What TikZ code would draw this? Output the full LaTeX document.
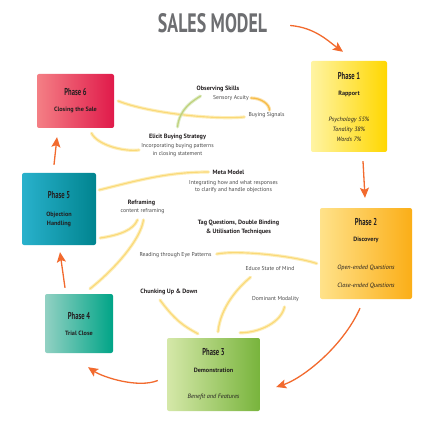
\documentclass[tikz,border=0pt]{standalone}
\usepackage{fontspec}
\setmainfont{PT Sans}
\usetikzlibrary{arrows.meta}

\definecolor{flowor}{HTML}{F26A2E}
\definecolor{swlight}{HTML}{FDE79A}
\definecolor{swdark}{HTML}{F9CA4C}
\definecolor{grlight}{HTML}{CFE6B2}
\definecolor{grdark}{HTML}{A9D082}
\definecolor{orlight}{HTML}{FBD587}
\definecolor{ordark}{HTML}{F6B035}
\definecolor{txtdark}{HTML}{231F20}
\definecolor{txtgray}{HTML}{4A4A4A}
\definecolor{titlegray}{HTML}{6D6E71}
% box gradients, left / middle / right
\definecolor{pha}{HTML}{FFF4A3}\definecolor{phb}{HTML}{FFEE22}\definecolor{phc}{HTML}{FFD700}
\definecolor{pda}{HTML}{FFE28A}\definecolor{pdb}{HTML}{FFC926}\definecolor{pdc}{HTML}{FBAE17}
\definecolor{pma}{HTML}{D5E8A9}\definecolor{pmb}{HTML}{A9D46E}\definecolor{pmc}{HTML}{78B43C}
\definecolor{pta}{HTML}{92D1C3}\definecolor{ptb}{HTML}{2BB59E}\definecolor{ptc}{HTML}{00A487}
\definecolor{poa}{HTML}{29B1CC}\definecolor{pob}{HTML}{0B9BB4}\definecolor{poc}{HTML}{00848F}
\definecolor{pca}{HTML}{F47F85}\definecolor{pcb}{HTML}{EC4361}\definecolor{pcc}{HTML}{E01A4A}

\newcommand{\phasehd}[1]{{\fontsize{10}{10}\selectfont\scalebox{0.66}[1]{\bfseries #1}}}

\begin{document}
\begin{tikzpicture}[
  x=1pt, y=-1pt,
  phasebox/.style={rounded corners=2pt, align=center, inner sep=0pt, text=txtdark,
                   font=\fontsize{6.2}{10}\selectfont},
  hint/.style={font=\fontsize{6.2}{9}\selectfont\bfseries, text=txtdark, align=center, inner sep=0pt},
  note/.style={font=\fontsize{5.7}{7.8}\selectfont, text=txtgray, align=center, inner sep=0pt},
  flow/.style={-{Stealth[length=10pt, width=9pt, inset=2pt]}, line width=1.3pt, draw=flowor},
  swash/.style={line cap=round, line width=3.2pt, draw=swlight, opacity=.7,
                postaction={draw=swdark, line width=1.1pt, opacity=.6}},
  gswash/.style={swash, draw=grlight, postaction={draw=grdark, line width=1.1pt}},
  oswash/.style={swash, draw=orlight, postaction={draw=ordark, line width=1.1pt}}
]
\fill[white] (0,0) rectangle (430,430);
\useasboundingbox (0,0) rectangle (430,430);

\node[inner sep=0pt, text=titlegray] (title) at (212.5,23.5)
  {\resizebox{109pt}{19pt}{\bfseries SALES MODEL}};

% phases
\node[phasebox, minimum width=76pt, minimum height=91pt,
      left color=pha, middle color=phb, right color=phc] (ph1) at (349,106.5)
  {\phasehd{Phase 1}\\[6pt]\textbf{Rapport}\\[16pt]\textit{Psychology 55\%}\\\textit{Tonality 38\%}\\\textit{Words 7\%}};
\node[phasebox, minimum width=92pt, minimum height=91pt,
      left color=pda, middle color=pdb, right color=pdc] (ph2) at (366,253.5)
  {\phasehd{Phase 2}\\[6pt]\textbf{Discovery}\\[18pt]\textit{Open-ended Questions}\\[8pt]\textit{Close-ended Questions}};
\node[phasebox, minimum width=93pt, minimum height=73pt,
      left color=pma, middle color=pmb, right color=pmc] (ph3) at (213.5,374.5)
  {\phasehd{Phase 3}\\[7pt]\textbf{Demonstration}\\[16pt]\textit{Benefit and Features}};
\node[phasebox, minimum width=68pt, minimum height=59pt,
      left color=pta, middle color=ptb, right color=ptc] (ph4) at (79,323.5)
  {\phasehd{Phase 4}\\[6pt]\textbf{Trial Close}};
\node[phasebox, minimum width=74pt, minimum height=72pt,
      left color=poa, middle color=pob, right color=poc] (ph5) at (59,209)
  {\phasehd{Phase 5}\\[8pt]\textbf{Objection}\\[-1pt]\textbf{Handling}};
\node[phasebox, minimum width=77pt, minimum height=54pt,
      left color=pca, middle color=pcb, right color=pcc] (ph6) at (75.5,101)
  {\phasehd{Phase 6}\\[6pt]\textbf{Closing the Sale}};

% skills
\node[hint] (obs) at (218,89) {Observing Skills};
\node[note] (acuity) at (231,98) {Sensory Acuity};
\node[note] (signals) at (266.5,115) {Buying Signals};
\node[hint] (elicit) at (177.5,137) {Elicit Buying Strategy};
\node[note] (elicitnote) at (177.5,150) {Incorporating buying patterns\\in closing statement};
\node[hint] (meta) at (228.5,172) {Meta Model};
\node[note] (metanote) at (233.5,186.5) {Integrating how and what responses\\to clarify and handle objections};
\node[hint] (refr) at (141.5,203) {Reframing};
\node[note] (refrnote) at (142.5,211) {content reframing};
\node[hint] (tagq) at (238.5,227.5) {Tag Questions, Double Binding\\\& Utilisation Techniques};
\node[note] (eyes) at (175.5,255) {Reading through Eye Patterns};
\node[note] (educe) at (270,269) {Educe State of Mind};
\node[hint] (chunk) at (169,292) {Chunking Up \& Down};
\node[note] (modal) at (275.5,299) {Dominant Modality};

% swooshes
\draw[swash] ([shift={(4,0)}]ph6.east) .. controls +(30,12) and +(-30,3) .. ([shift={(-4,2)}]signals.west);
\draw[gswash] ([shift={(0,-7)}]elicit.north) .. controls +(2,-18) and +(-8,5) .. ([shift={(4,4)}]obs.south west);
\draw[oswash] ([shift={(2,0)}]acuity.east) .. controls +(10,0) and +(0,-6) .. ([shift={(3,-2)}]signals.north);
\draw[swash] ([shift={(16,5)}]ph6.south) .. controls +(6,12) and +(-15,2) .. ([shift={(-2,0)}]elicitnote.west);
\draw[swash] ([shift={(3,-19)}]ph5.east) .. controls +(40,-10) and +(-40,0) .. ([shift={(-4,0)}]meta.west);
\draw[swash] ([shift={(4,29)}]ph5.east) .. controls +(20,-3) and +(-4,10) .. ([shift={(-5,6)}]refrnote.south);
\draw[swash] ([shift={(11,-5)}]ph4.north) .. controls +(25,-20) and +(-3,20) .. ([shift={(1,6)}]refrnote.south);
\draw[swash] ([shift={(-3,10)}]ph2.west) .. controls +(-25,-8) and +(20,-4) .. ([shift={(5,-1)}]eyes.east);
\draw[swash] ([shift={(5,6)}]educe.south west) .. controls +(-18,15) and +(2,-20) .. ([shift={(4.5,-6)}]ph3.north);
\draw[swash] ([shift={(-9,5)}]chunk.south) .. controls +(15,20) and +(-15,-8) .. ([shift={(-15.5,-4)}]ph3.north);
\draw[swash] ([shift={(9,5)}]modal.south) .. controls +(-3,15) and +(20,0) .. ([shift={(26.5,-5)}]ph3.north);

% cycle
\draw[flow] ([shift={(23,2)}]title.east) .. controls +(25,2) and +(-14,-10) .. ([shift={(-6,-9)}]ph1.north);
\draw[flow] ([shift={(14,9)}]ph1.south) -- ([shift={(-1,-10)}]ph2.north);
\draw[flow] ([shift={(-6,9)}]ph2.south) .. controls +(-18,40) and +(25,-8) .. ([shift={(16,12.5)}]ph3.east);
\draw[flow] ([shift={(-9,6)}]ph3.west) .. controls +(-20,8) and +(15,10) .. ([shift={(9,14)}]ph4.south);
\draw[flow] ([shift={(-14,-6)}]ph4.north) -- ([shift={(1,7)}]ph5.south);
\draw[flow] ([shift={(-5,-8)}]ph5.north) -- ([shift={(-18.5,9)}]ph6.south);
\end{tikzpicture}
\end{document}
